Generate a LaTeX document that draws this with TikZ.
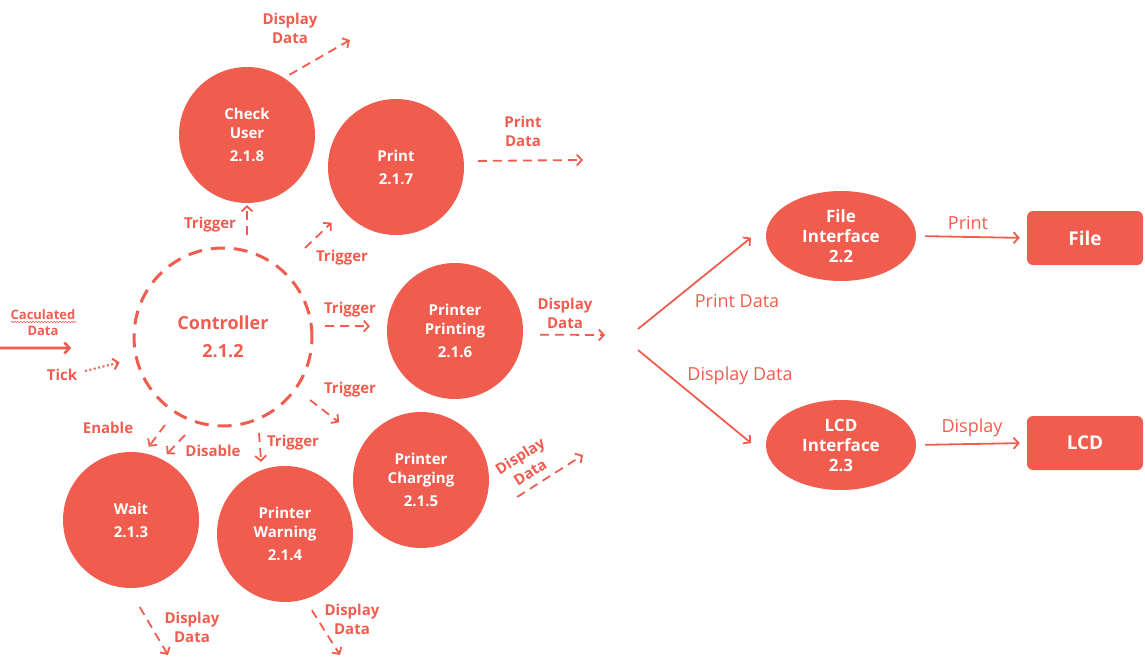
\documentclass[tikz,border=0pt]{standalone}
\usepackage{fontspec}
\setmainfont{Open Sans}
\usetikzlibrary{arrows.meta,shapes.geometric,decorations.pathmorphing}
\definecolor{dfd}{RGB}{240,92,78}
\begin{document}
\begin{tikzpicture}[x=1pt,y=-1pt,
 proc/.style={circle,fill=dfd,text=white,minimum size=136pt,inner sep=0pt,align=center,font=\bfseries\fontsize{15}{19}\selectfont},
 iface/.style={ellipse,fill=dfd,text=white,minimum width=150pt,minimum height=90pt,inner sep=0pt,align=center,font=\bfseries\fontsize{17}{20}\selectfont},
 term/.style={rectangle,rounded corners=6pt,fill=dfd,text=white,minimum width=116pt,minimum height=54pt,font=\bfseries\fontsize{19}{22}\selectfont},
 lbl/.style={text=dfd,align=center,inner sep=0pt,font=\bfseries\fontsize{15}{19}\selectfont},
 rlbl/.style={text=dfd,inner sep=0pt,font=\fontsize{18}{21}\selectfont},
 arrtip/.style={-{Straight Barb[length=5pt,width=11pt]}},
 dflow/.style={draw=dfd,line width=1.8pt,dash pattern=on 9pt off 6pt,arrtip},
 sflow/.style={draw=dfd,line width=1.8pt,arrtip},
 tickflow/.style={draw=dfd,line width=2pt,dash pattern=on 2pt off 2.5pt,arrtip},
]
\useasboundingbox (0,0) rectangle (1145,658);

% processes
\node (ctrl) at (223,337) [circle,minimum size=178pt,inner sep=0pt,draw=dfd,line width=3pt,dash pattern=on 14pt off 9pt,text=dfd,align=center,font=\bfseries\fontsize{18}{28}\selectfont] {Controller\\2.1.2};
\node[proc] (check) at (247,135) {Check\\User\\[4pt]2.1.8};
\node[proc] (print) at (396,167) {Print\\[4pt]2.1.7};
\node[proc] (pp) at (455,331) {Printer\\Printing\\[4pt]2.1.6};
\node[proc] (pc) at (421,480) {Printer\\Charging\\[4pt]2.1.5};
\node[proc] (wait) at (131,520) {Wait\\[4pt]2.1.3};
\node[proc] (pw) at (285,534) {Printer\\Warning\\[4pt]2.1.4};
\node[iface] (fi) at (841,236) {File\\Interface\\2.2};
\node[iface] (li) at (841,445) {LCD\\Interface\\2.3};
\node[term] (file) at (1085,238) {File};
\node[term] (lcd) at (1085,443) {LCD};

% free ends
\coordinate (cudE) at (350,40);
\coordinate (prE) at (583,160);
\coordinate (ppE) at (605,335);
\coordinate (pcE) at (583,455);
\coordinate (waE) at (168,655);
\coordinate (pwE) at (340,655);
\coordinate (tS1) at (247,235);
\coordinate (tS2) at (305,248);
\coordinate (tS3) at (325,326);
\coordinate (tS4) at (310,400);
\coordinate (tS5) at (259,433);
\coordinate (enS) at (165,425);
\coordinate (diS) at (185,435);
\coordinate (tickS) at (85,371);
\coordinate (calcS) at (0,348);
\coordinate (hubA) at (638,329);
\coordinate (hubB) at (638,350);

% outgoing display / print data
\draw[dflow,shorten <=6pt] (check.57) -- (cudE);
\draw[dflow,shorten <=14pt] (print.5) -- (prE);
\draw[dflow,shorten <=17pt] (pp.-3) -- (ppE);
\draw[dflow,shorten <=55pt] (pc.-43) -- (pcE);
\draw[dflow,shorten <=22pt] (wait.-92) -- (waE);
\draw[dflow,shorten <=13pt] (pw.-73) -- (pwE);

% controller triggers
\draw[dflow,shorten >=2pt] (tS1) -- (check.south);
\draw[dflow,shorten >=17pt] (tS2) -- (print.220);
\draw[dflow,shorten >=17pt] (tS3) -- (pp.176);
\draw[dflow,shorten >=32pt] (tS4) -- (pc.146);
\draw[dflow,shorten >=8pt] (tS5) -- (pw.110);
\draw[dflow,shorten >=8pt] (enS) -- (wait.79);
\draw[dflow,shorten >=7pt] (diS) -- (wait.63);

% inputs
\draw[tickflow,shorten >=16pt] (tickS) -- (ctrl);
\draw[sflow,line width=2.6pt,shorten >=62pt] (calcS) -- (ctrl.187);

% right side
\draw[sflow,shorten >=23pt] (hubA) -- (fi.170);
\draw[sflow,shorten >=23pt] (hubB) -- (li.190);
\draw[sflow,shorten <=9pt,shorten >=7pt] (fi.east) -- (file.west);
\draw[sflow,shorten <=9pt,shorten >=7pt] (li.east) -- (lcd.west);

% labels
\node[lbl] (lb1) at (290,28) {Display\\Data};
\node[lbl] (lb2) at (523,131) {Print\\Data};
\node[lbl] (lb3) at (565,313) {Display\\Data};
\node[lbl,rotate=32] (lb4) at (525,464) {Display\\Data};
\node[lbl] (lb5) at (192,627) {Display\\Data};
\node[lbl] (lb6) at (352,619) {Display\\Data};
\node[lbl] (lt1) at (210,225) {Trigger};
\node[lbl] (lt2) at (342,258) {Trigger};
\node[lbl] (lt3) at (350,310) {Trigger};
\node[lbl] (lt4) at (350,390) {Trigger};
\node[lbl] (lt5) at (293,443) {Trigger};
\node[lbl] (len) at (108,428) {Enable};
\node[lbl] (ldi) at (213,451) {Disable};
\node[lbl] (ltk) at (62,375) {Tick};
\node[lbl,font=\bfseries\fontsize{13}{16}\selectfont] (lcalc) at (43,323) {Caculated\\Data};
\draw[dfd,line width=0.6pt,decorate,decoration={snake,amplitude=0.7pt,segment length=3pt}] (11,322) -- (76,322);
\node[rlbl] (lr1) at (737,301) {Print Data};
\node[rlbl] (lr2) at (740,376) {Display Data};
\node[rlbl] (lr3) at (968,223) {Print};
\node[rlbl] (lr4) at (972,428) {Display};
\end{tikzpicture}
\end{document}
